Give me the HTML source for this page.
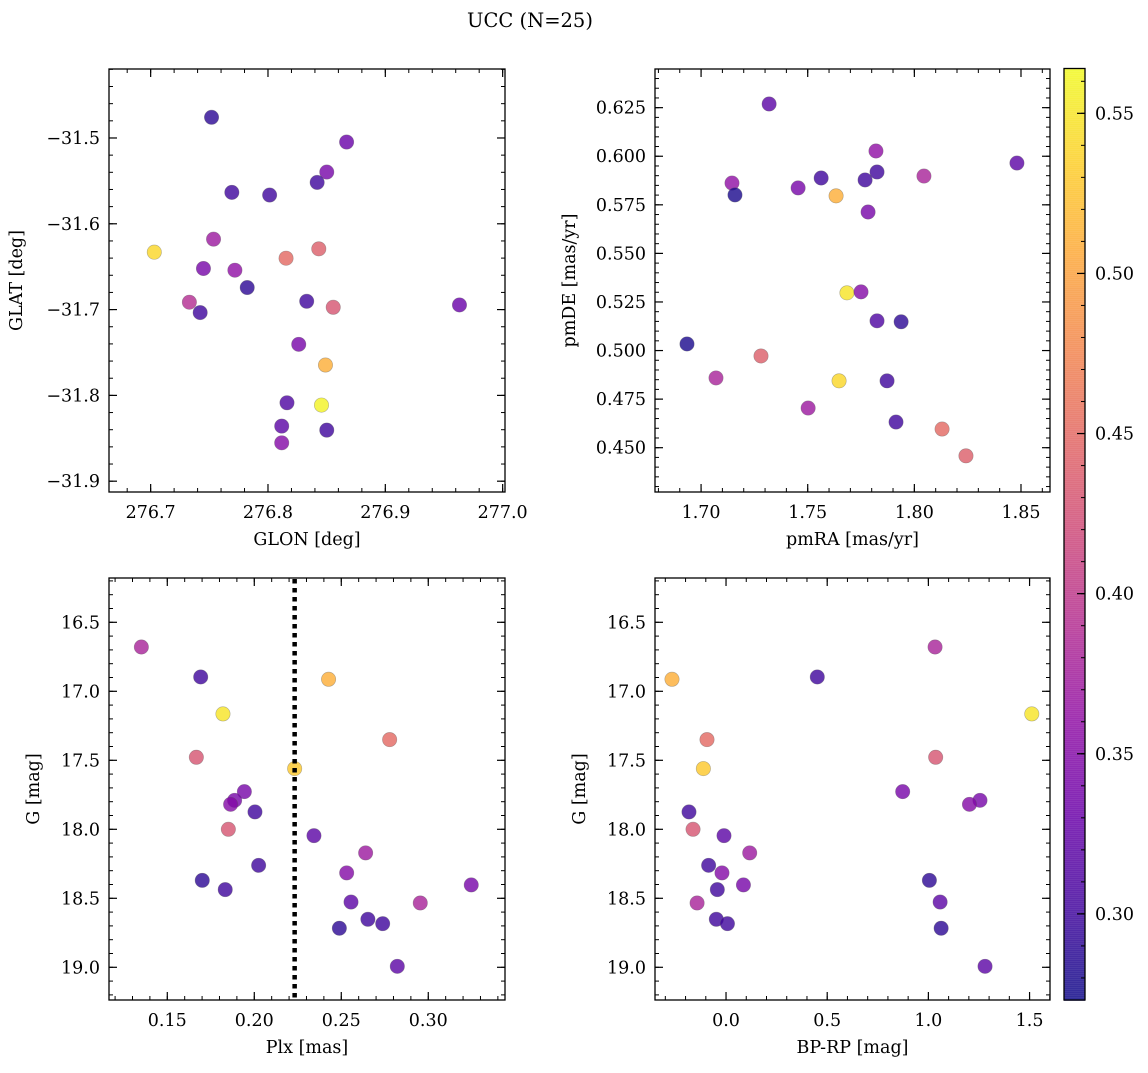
<!DOCTYPE html>
<html><head><meta charset="utf-8"><style>
html,body{margin:0;padding:0;background:#fff;}
svg text{font-family:"DejaVu Serif","Liberation Serif",serif;fill:#000;}
</style></head><body>
<svg id="fig" width="1148" height="1068" viewBox="0 0 1148 1068" xmlns="http://www.w3.org/2000/svg">
<text x="530" y="27" font-size="19.5" text-anchor="middle">UCC (N=25)</text>
</svg>
<script>
// ---- Data ----
const tlGlon = [276.7519,276.8670,276.8501,276.8419,276.7692,276.8014,276.7536,276.7031,276.8433,276.8154,276.7450,276.7718,276.7823,276.7330,276.8330,276.8556,276.9632,276.7422,276.8262,276.8490,276.8162,276.8456,276.8117,276.8501,276.8117];
const tlGlat = [-31.4759,-31.5047,-31.5397,-31.5518,-31.5634,-31.5665,-31.6179,-31.6331,-31.6292,-31.6401,-31.6521,-31.6541,-31.6743,-31.6914,-31.6903,-31.6973,-31.6946,-31.7035,-31.7405,-31.7646,-31.8086,-31.8113,-31.8358,-31.8405,-31.8553];
const tlColor = [0.29,0.33,0.34,0.30,0.30,0.30,0.37,0.54,0.44,0.45,0.34,0.36,0.29,0.39,0.30,0.43,0.33,0.30,0.34,0.51,0.31,0.56,0.32,0.30,0.35];

const trPmra = [1.7319,1.7820,1.8481,1.7145,1.8045,1.7563,1.7825,1.7769,1.7455,1.7159,1.7633,1.7783,1.7684,1.7750,1.7825,1.7938,1.6934,1.7281,1.7070,1.7647,1.7872,1.7502,1.7914,1.8130,1.8242];
const trPmde = [0.6269,0.6027,0.5965,0.5862,0.5898,0.5888,0.5919,0.5878,0.5837,0.5801,0.5796,0.5713,0.5297,0.5302,0.5153,0.5148,0.5034,0.4972,0.4859,0.4844,0.4844,0.4704,0.4632,0.4596,0.4458];
const trColor = [0.32,0.36,0.32,0.36,0.38,0.30,0.30,0.30,0.34,0.28,0.51,0.34,0.55,0.35,0.31,0.29,0.28,0.44,0.38,0.54,0.30,0.37,0.30,0.45,0.44];

const starG = [16.679,16.896,17.164,16.913,17.350,17.478,17.560,17.727,17.790,17.819,17.874,18.000,18.046,18.171,18.261,18.316,18.370,18.403,18.437,18.534,18.527,18.652,18.684,18.717,18.993];
const starPlx = [0.1351,0.1692,0.1820,0.2427,0.2778,0.1667,0.2232,0.1943,0.1887,0.1864,0.2004,0.1851,0.2343,0.2640,0.2025,0.2531,0.1701,0.3247,0.1833,0.2954,0.2556,0.2653,0.2738,0.2489,0.2822];
const starBpRp = [1.033,0.451,1.511,-0.267,-0.094,1.036,-0.112,0.873,1.255,1.203,-0.183,-0.163,-0.010,0.117,-0.086,-0.020,1.005,0.086,-0.043,-0.143,1.058,-0.048,0.007,1.063,1.280];
const starColor = [0.38,0.30,0.55,0.51,0.45,0.43,0.53,0.34,0.34,0.35,0.30,0.43,0.32,0.37,0.30,0.35,0.29,0.34,0.30,0.38,0.32,0.30,0.30,0.29,0.32];
const plxCut = [0.2232];

const colorMin = 0.2731, colorMax = 0.5640;
const cbTicks = [0.30,0.35,0.40,0.45,0.50,0.55];

const tlXTicks = [276.7,276.8,276.9,277.0], tlYTicks = [-31.5,-31.6,-31.7,-31.8,-31.9];
const trXTicks = [1.70,1.75,1.80,1.85], trYTicks = [0.450,0.475,0.500,0.525,0.550,0.575,0.600,0.625];
const blXTicks = [0.15,0.20,0.25,0.30], gTicks = [16.5,17.0,17.5,18.0,18.5,19.0];
const brXTicks = [0.0,0.5,1.0,1.5];

// ---- helpers ----
const NS = "http://www.w3.org/2000/svg";
const svg = document.getElementById('fig');
const FS = 17.5;
function mk(tag, attrs, parent){
  const e = document.createElementNS(NS, tag);
  for (const k in attrs) e.setAttribute(k, attrs[k]);
  (parent||svg).appendChild(e); return e;
}
const plasmaStops = [[13,8,135],[65,4,157],[106,0,168],[143,13,164],[177,42,144],[204,71,120],[225,100,98],[242,132,75],[252,166,54],[252,206,37],[240,249,33]];
function plasma(v){
  let t = (v-colorMin)/(colorMax-colorMin); t=Math.max(0,Math.min(1,t));
  const f=t*10, i=Math.min(9,Math.floor(f)), r=f-i, a=plasmaStops[i], b=plasmaStops[i+1];
  return 'rgb('+a.map((c,k)=>Math.round(c+(b[k]-c)*r)).join(',')+')';
}
function fmt(v, d){ const s=v.toFixed(d); return s.replace('-', '\u2212'); }

function panel(name, box, xr, yr, xTicks, yTicks, xMinor, yMinor, xd, yd, xlabel, ylabel, invertY, ylabX){
  const [x0,y0,x1,y1]=box;
  const sx = v => x0 + (v-xr[0])/(xr[1]-xr[0])*(x1-x0);
  const sy = invertY ? (v => y0 + (v-yr[0])/(yr[1]-yr[0])*(y1-y0)) : (v => y1 - (v-yr[0])/(yr[1]-yr[0])*(y1-y0));
  const g = mk('g', {});
  
  
  const eps=1e-9;
  for (let v=Math.ceil(xr[0]/xMinor-eps)*xMinor; v<=xr[1]+eps; v+=xMinor){
    const x=sx(v);
    mk('line',{x1:x,x2:x,y1:y1,y2:y1-4,stroke:'#000','stroke-width':1},g);
    mk('line',{x1:x,x2:x,y1:y0,y2:y0+4,stroke:'#000','stroke-width':1},g);
  }
  const ylo=Math.min(yr[0],yr[1]), yhi=Math.max(yr[0],yr[1]);
  for (let v=Math.ceil(ylo/yMinor-eps)*yMinor; v<=yhi+eps; v+=yMinor){
    const y=sy(v);
    mk('line',{x1:x0,x2:x0+4,y1:y,y2:y,stroke:'#000','stroke-width':1},g);
    mk('line',{x1:x1,x2:x1-4,y1:y,y2:y,stroke:'#000','stroke-width':1},g);
  }
  xTicks.forEach(v=>{
    const x=sx(v);
    mk('line',{x1:x,x2:x,y1:y1,y2:y1-8,stroke:'#000','stroke-width':1.2},g);
    mk('line',{x1:x,x2:x,y1:y0,y2:y0+8,stroke:'#000','stroke-width':1.2},g);
    const t=mk('text',{x:x,y:y1+26,'font-size':FS,'text-anchor':'middle'},g);
    t.textContent=fmt(v,xd);
    
    
  });
  yTicks.forEach(v=>{
    const y=sy(v);
    mk('line',{x1:x0,x2:x0+8,y1:y,y2:y,stroke:'#000','stroke-width':1.2},g);
    mk('line',{x1:x1,x2:x1-8,y1:y,y2:y,stroke:'#000','stroke-width':1.2},g);
    const t=mk('text',{x:x0-9,y:y+6,'font-size':FS,'text-anchor':'end'},g);
    t.textContent=fmt(v,yd);
    
    
  });
  mk('rect',{x:x0,y:y0,width:x1-x0,height:y1-y0,fill:'none',stroke:'#000','stroke-width':1.3},g);
  const xl=mk('text',{x:(x0+x1)/2,y:y1+53,'font-size':FS,'text-anchor':'middle'},g);
  xl.textContent=xlabel;
  
  
  const ym=(y0+y1)/2;
  const yl=mk('text',{x:ylabX,y:ym,'font-size':FS,'text-anchor':'middle',transform:'rotate(-90 '+ylabX+' '+ym+')'},g);
  yl.textContent=ylabel;
  
  
  return {sx, sy, g};
}
function scatter(p, xs, ys, cs, name){
  xs.forEach((xv,i)=>{
    const c=mk('circle',{cx:p.sx(xv),cy:p.sy(ys[i]),r:7.2,fill:plasma(cs[i]),'fill-opacity':0.8,stroke:'rgba(90,90,90,0.45)','stroke-width':0.6},p.g);
    
    
  });
}

const tl = panel('tl',[109,69,505,492],[276.6645,277.0020],[-31.9126,-31.4196],tlXTicks,tlYTicks,0.02,0.02,1,1,'GLON [deg]','GLAT [deg]',false,22);
scatter(tl, tlGlon, tlGlat, tlColor, 'glon-glat');
const tr = panel('tr',[655,69,1050,492],[1.6784,1.8636],[0.4272,0.6449],trXTicks,trYTicks,0.01,0.005,2,3,'pmRA [mas/yr]','pmDE [mas/yr]',false,575);
scatter(tr, trPmra, trPmde, trColor, 'pm');
const bl = panel('bl',[109,578,505,1000],[0.1165,0.3441],[16.179,19.237],blXTicks,gTicks,0.01,0.1,2,1,'Plx [mas]','G [mag]',true,39);
scatter(bl, starPlx, starG, starColor, 'plx-g');
const cut = mk('line',{x1:bl.sx(plxCut[0]),x2:bl.sx(plxCut[0]),y1:579,y2:1000,stroke:'#000','stroke-width':4.5,'stroke-dasharray':'4.5 4.5'},bl.g);


const br = panel('br',[655,578,1050,1000],[-0.351,1.601],[16.179,19.237],brXTicks,gTicks,0.1,0.1,1,1,'BP-RP [mag]','G [mag]',true,585);
scatter(br, starBpRp, starG, starColor, 'cmd');

// colorbar
const cb = mk('g',{});


const cbx0=1064, cbx1=1085, cby0=68.5, cby1=1000;
const cy = v => cby1 - (v-colorMin)/(colorMax-colorMin)*(cby1-cby0);
for (let y=cby0; y<cby1; y+=2){
  const v = colorMin + (cby1-y-1)/(cby1-cby0)*(colorMax-colorMin);
  mk('rect',{x:cbx0,y:y,width:cbx1-cbx0,height:2.3,fill:plasma(v),'fill-opacity':0.8},cb);
}
for (let v=Math.ceil(colorMin/0.01)*0.01; v<=colorMax; v+=0.01){
  const y=cy(v); mk('line',{x1:cbx1,x2:cbx1-4,y1:y,y2:y,stroke:'#000','stroke-width':1},cb);
}
cbTicks.forEach(v=>{
  const y=cy(v);
  mk('line',{x1:cbx1,x2:cbx1-8,y1:y,y2:y,stroke:'#000','stroke-width':1.2},cb);
  const t=mk('text',{x:cbx1+10,y:y+6,'font-size':FS},cb);
  t.textContent=v.toFixed(2);
  
  
});
mk('rect',{x:cbx0,y:cby0,width:cbx1-cbx0,height:cby1-cby0,fill:'none',stroke:'#000','stroke-width':1.3},cb);
</script>
</body></html>
